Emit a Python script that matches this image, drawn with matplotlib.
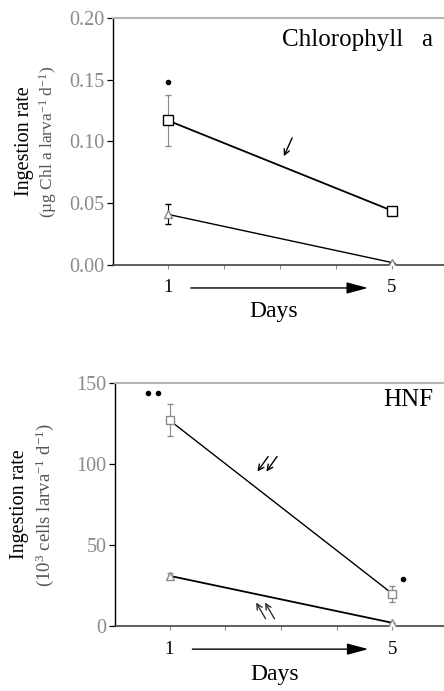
import numpy as np
import matplotlib
matplotlib.use('Agg')
import matplotlib.pyplot as plt

plt.rcParams['font.family'] = ['Liberation Serif', 'DejaVu Serif']
plt.rcParams['mathtext.fontset'] = 'custom'
plt.rcParams['mathtext.rm'] = 'Liberation Serif'
plt.rcParams['mathtext.it'] = 'Liberation Serif:italic'

days = [1, 5]
# chlorophyll a panel
chl_sq = [0.117, 0.044]
chl_sq_err = [0.021, 0.0]
chl_tri = [0.041, 0.002]
chl_tri_err = [0.008, 0.0]
# HNF panel
hnf_sq = [127, 20]
hnf_sq_err = [10, 5]
hnf_tri = [31, 2]
hnf_tri_err = [2, 0]

grey = '#8a8a8a'

fig = plt.figure(figsize=(4.44, 6.91), dpi=100)
ax1 = fig.add_axes([0.2545, 0.6165, 0.7455, 0.3575])
ax2 = fig.add_axes([0.259, 0.094, 0.741, 0.3517])


def style_axis(ax, ymax, yticks, yfmt, ylab2, title, title_xy, title_fs, ylab_x, ylab2_x, ylab2_fs):
    ax.set_xlim(0.02, 5.93)
    ax.set_ylim(0, ymax)
    ax.set_yticks(yticks)
    ax.set_yticklabels([yfmt.format(v) for v in yticks], color=grey, fontsize=14.5)
    ax.set_xticks([1, 2, 3, 4, 5])
    ax.set_xticklabels([])
    ax.tick_params(axis='x', direction='out', length=3, color=grey, width=0.8)
    ax.tick_params(axis='y', direction='out', length=4, width=0.9, pad=2)
    ax.spines['right'].set_visible(False)
    ax.spines['top'].set_color('#b5b5b5')
    ax.spines['top'].set_linewidth(1.5)
    ax.spines['bottom'].set_color('#444444')
    ax.spines['bottom'].set_linewidth(1.2)
    ax.spines['left'].set_linewidth(1.0)
    ax.text(title_xy[0], title_xy[1], title, transform=ax.transAxes,
            fontsize=title_fs, ha='left', va='center')
    ax.text(ylab_x, 0.5, 'Ingestion rate', transform=ax.transAxes, rotation=90,
            fontsize=14.5, ha='center', va='center')
    ax.text(ylab2_x, 0.5, ylab2, transform=ax.transAxes, rotation=90,
            fontsize=ylab2_fs, ha='center', va='center', color='#555555')


def day_axis(ax, y_num, y_days):
    tr = matplotlib.transforms.blended_transform_factory(ax.transData, ax.transAxes)
    ax.text(1, y_num, '1', transform=tr, ha='center', va='center', fontsize=13.5)
    ax.text(5, y_num, '5', transform=tr, ha='center', va='center', fontsize=13.5)
    ax.annotate('', xy=(4.62, y_num), xytext=(1.36, y_num), xycoords=tr, textcoords=tr,
                arrowprops=dict(arrowstyle='-|>,head_length=1.3,head_width=0.35',
                                color='black', lw=1.0), annotation_clip=False)
    ax.text(2.88, y_days, 'Days', transform=tr, ha='center', va='center', fontsize=17)


# top panel
ax1.errorbar(days, chl_sq, yerr=chl_sq_err, color='black', lw=1.3, marker='s',
             mfc='white', mec='black', ms=7, ecolor=grey, elinewidth=0.8, capsize=2, zorder=3)
ax1.errorbar(days, chl_tri, yerr=chl_tri_err, color='black', lw=1.0, marker='^',
             mfc='white', mec=grey, ms=6, ecolor='black', elinewidth=0.8, capsize=2, zorder=3)
ax1.plot([1], [0.148], 'o', color='black', ms=3)
ax1.annotate('', xy=(3.05, 0.086), xytext=(3.24, 0.105),
             arrowprops=dict(arrowstyle='->', color='black', lw=1.0))
style_axis(ax1, 0.20, [0.0, 0.05, 0.10, 0.15, 0.20], '{:.2f}',
           r'(µg Chl a larva$^{-1}$ d$^{-1}$)', 'Chlorophyll   a',
           (0.51, 0.91), 18, -0.266, -0.196, 12.5)
day_axis(ax1, -0.093, -0.19)

# bottom panel
ax2.errorbar(days, hnf_sq, yerr=hnf_sq_err, color='black', lw=1.0, marker='s',
             mfc='white', mec=grey, ms=6, ecolor=grey, elinewidth=0.8, capsize=2, zorder=3)
ax2.errorbar(days, hnf_tri, yerr=hnf_tri_err, color='black', lw=1.3, marker='^',
             mfc='white', mec=grey, ms=6, ecolor=grey, elinewidth=0.8, capsize=2, zorder=3)
ax2.plot([0.62, 0.80], [144, 144], 'o', color='black', ms=3)
ax2.plot([5.2], [29], 'o', color='black', ms=3)
for dx in [0.0, 0.16]:
    ax2.annotate('', xy=(2.55 + dx, 94), xytext=(2.8 + dx, 106),
                 arrowprops=dict(arrowstyle='->', color='black', lw=1.0))
for dx in [0.0, 0.16]:
    ax2.annotate('', xy=(2.53 + dx, 16), xytext=(2.75 + dx, 3),
                 arrowprops=dict(arrowstyle='->', color='#333333', lw=1.0))
style_axis(ax2, 150, [0, 50, 100, 150], '{:.0f}',
           r'(10$^{3}$ cells larva$^{-1}$ d$^{-1}$)', 'HNF',
           (0.815, 0.93), 18, -0.289, -0.213, 13.5)
day_axis(ax2, -0.095, -0.20)

fig.savefig('out.png', dpi=100)
